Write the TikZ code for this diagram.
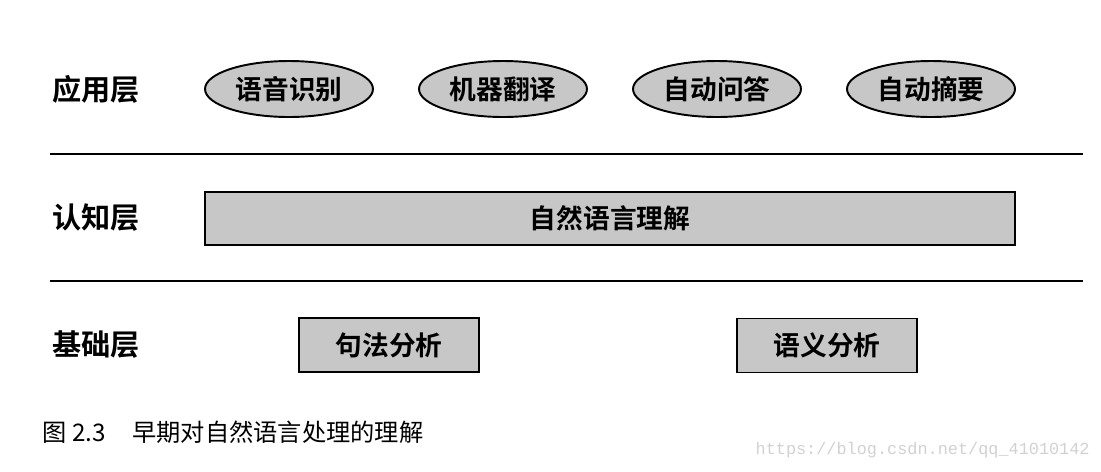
\documentclass[tikz,border=0pt]{standalone}
\usepackage{fontspec}
\setmainfont{Noto Sans CJK SC}
\newfontfamily\cjkbold{Noto Sans CJK SC Bold}
\newfontfamily\wmfont{Liberation Mono}
\usetikzlibrary{shapes.geometric,positioning}

\begin{document}
\begin{tikzpicture}[x=0.02cm,y=-0.02cm,every node/.style={inner sep=0pt},
  layer/.style={font=\cjkbold\fontsize{16.6}{17}\selectfont,anchor=west},
  task/.style={ellipse,draw,line width=1.1pt,fill=black!22,minimum width=3.36cm,minimum height=1.12cm,font=\cjkbold\fontsize{15.2}{16}\selectfont},
  unit/.style={rectangle,draw,line width=1.1pt,fill=black!22,minimum width=3.6cm,minimum height=1.08cm,font=\cjkbold\fontsize{15.2}{16}\selectfont},
  sep/.style={line width=1.1pt}]
\useasboundingbox (0,0) rectangle (1101,471);
% layer names
\node[layer] (app) at (52,89) {应用层};
\node[layer] (cog) at (52,218) {认知层};
\node[layer] (base) at (52,345) {基础层};
% application layer
\node[task] (asr) at (289,89) {语音识别};
\node[task] (mt) at (503,89) {机器翻译};
\node[task] (qa) at (717,89) {自动问答};
\node[task] (sum) at (931,89) {自动摘要};
% separators
\coordinate (s1l) at (50,154);
\coordinate (s1r) at (1083,154);
\coordinate (s2l) at (50,281);
\coordinate (s2r) at (1083,281);
\draw[sep] (s1l)--(s1r);
\draw[sep] (s2l)--(s2r);
% cognitive layer
\node[unit,minimum width=16.2cm,minimum height=1.06cm] (nlu) at (610,218.5) {自然语言理解};
% base layer
\node[unit] (syn) at (389,345) {句法分析};
\node[unit] (sem) at (827,345.5) {语义分析};
% caption and mark
\node[anchor=west,font=\fontsize{13.8}{14}\selectfont] (cap) at (42,432) {图 2.3\hspace{1.1em}早期对自然语言处理的理解};
\node[anchor=east,font=\wmfont\fontsize{9.6}{10}\selectfont,text=black!18] (mark) at (1090,450) {https://blog.csdn.net/qq\_41010142};
\end{tikzpicture}
\end{document}
